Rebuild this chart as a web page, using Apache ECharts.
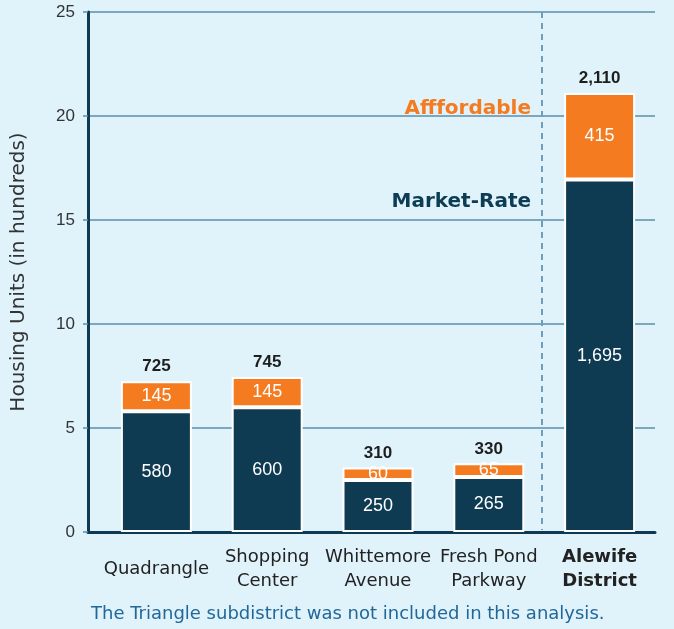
<!DOCTYPE html>
<html>
<head>
<meta charset="utf-8">
<title>Housing Units by Subdistrict</title>
<script src="https://cdn.jsdelivr.net/npm/echarts@6/dist/echarts.min.js"></script>
<style>
  html, body { margin: 0; padding: 0; background: #e0f2fa; }
  #chart { width: 674px; height: 629px; }
</style>
</head>
<body>
<div id="chart"></div>
<script>
// Housing units per subdistrict (units, shown on the axis in hundreds)
const categories = ['Quadrangle', 'Shopping\nCenter', 'Whittemore\nAvenue', 'Fresh Pond\nParkway', 'Alewife\nDistrict'];
const marketRate = [580, 600, 250, 265, 1695];
const affordable = [145, 145, 60, 65, 415];
const totals = [725, 745, 310, 330, 2110];
const yTicks = [0, 5, 10, 15, 20, 25];

const DARK = '#0e3b52';
const ORANGE = '#f47b20';
const GRID = '#5e8ca9';
const NUM_FONT = '"Liberation Sans", Arial, sans-serif';
const WIDE_FONT = '"DejaVu Sans", sans-serif';

const hundreds = v => v / 100;
const fmt = v => v.toLocaleString('en-US');

const chart = echarts.init(document.getElementById('chart'), null, { renderer: 'canvas' });

chart.setOption({
  backgroundColor: '#e0f2fa',
  animation: false,
  grid: [
    // frame: value axis, gridlines and baseline
    { left: 88, right: 19, top: 12, bottom: 97, outerBoundsMode: 'none', containLabel: false },
    // plotting area for the bars, inset from the axis line
    { left: 101, right: 19, top: 12, bottom: 97, outerBoundsMode: 'none', containLabel: false }
  ],
  xAxis: [
    {
      gridIndex: 0, type: 'value', min: 0, max: 1,
      axisLine: { show: true, lineStyle: { color: '#0d3a52', width: 3 } },
      axisTick: { show: false }, axisLabel: { show: false }, splitLine: { show: false }
    },
    {
      gridIndex: 1, type: 'category', data: categories,
      axisLine: { show: false }, axisTick: { show: false },
      splitLine: { show: false },
      axisLabel: {
        interval: 0,
        margin: 37,
        verticalAlign: 'middle',
        fontFamily: WIDE_FONT, fontSize: 18, lineHeight: 24, color: '#222',
        formatter: (v, i) => i === categories.length - 1
          ? v.split('\n').map(s => '{b|' + s + '}').join('\n')
          : v,
        rich: {
          b: { fontFamily: WIDE_FONT, fontSize: 18, fontWeight: 'bold', lineHeight: 24, color: '#222' }
        }
      }
    }
  ],
  yAxis: [
    {
      gridIndex: 0, type: 'value',
      min: yTicks[0], max: yTicks[yTicks.length - 1], interval: yTicks[1] - yTicks[0],
      name: 'Housing Units (in hundreds)',
      nameLocation: 'middle', nameGap: 59,
      nameTextStyle: { fontFamily: WIDE_FONT, fontSize: 20, color: '#333' },
      axisLine: { show: true, lineStyle: { color: '#0d3a52', width: 3 } },
      axisTick: { show: true, length: 5, lineStyle: { color: GRID, width: 1.5 } },
      axisLabel: { margin: 13, fontFamily: NUM_FONT, fontSize: 17, color: '#333' },
      splitLine: { show: true, lineStyle: { color: GRID, width: 1.5 } }
    },
    {
      gridIndex: 1, type: 'value',
      min: yTicks[0], max: yTicks[yTicks.length - 1], interval: yTicks[1] - yTicks[0],
      show: false, splitLine: { show: false }
    }
  ],
  series: [
    {
      name: 'Market-Rate', type: 'bar', stack: 'units',
      xAxisIndex: 1, yAxisIndex: 1,
      barWidth: 71,
      data: marketRate.map(hundreds),
      itemStyle: { color: DARK, borderColor: '#ffffff', borderWidth: 2 },
      label: {
        show: true, position: 'inside',
        fontFamily: NUM_FONT, fontSize: 18, color: '#ffffff',
        formatter: p => fmt(marketRate[p.dataIndex])
      }
    },
    {
      name: 'Affordable', type: 'bar', stack: 'units',
      xAxisIndex: 1, yAxisIndex: 1,
      barWidth: 71,
      data: affordable.map(hundreds),
      itemStyle: { color: ORANGE, borderColor: '#ffffff', borderWidth: 2 },
      label: {
        show: true, position: 'inside',
        fontFamily: NUM_FONT, fontSize: 18, color: '#ffffff',
        formatter: p => fmt(affordable[p.dataIndex])
      }
    },
    {
      name: 'Total', type: 'scatter',
      xAxisIndex: 1, yAxisIndex: 1,
      symbolSize: 0,
      itemStyle: { opacity: 1 },
      data: totals.map(hundreds),
      label: {
        show: true, position: 'top', distance: 6,
        fontFamily: NUM_FONT, fontSize: 17, fontWeight: 'bold', color: '#1e1e1e',
        formatter: p => fmt(totals[p.dataIndex])
      }
    }
  ]
});

// Dashed divider between the subdistricts and the district total,
// placed halfway between the last two categories on the bar axis.
const xA = chart.convertToPixel({ xAxisIndex: 1 }, categories[categories.length - 2]);
const xB = chart.convertToPixel({ xAxisIndex: 1 }, categories[categories.length - 1]);
const yTop = chart.convertToPixel({ yAxisIndex: 1 }, yTicks[yTicks.length - 1]);
const yBottom = chart.convertToPixel({ yAxisIndex: 1 }, yTicks[0]);
const xDivider = Math.round((xA + xB) / 2) - 2;

chart.setOption({
  graphic: [
    {
      type: 'line', z: 1,
      shape: { x1: xDivider, y1: yTop, x2: xDivider, y2: yBottom - 2 },
      style: { stroke: '#6f9dbb', lineWidth: 2, lineDash: [6, 5] }
    },
    {
      type: 'text', right: 143, top: 99,
      style: {
        text: 'Afffordable', fill: ORANGE,
        font: 'bold 20px "DejaVu Sans", sans-serif'
      }
    },
    {
      type: 'text', right: 143, top: 192,
      style: {
        text: 'Market-Rate', fill: '#0d3d55',
        font: 'bold 20px "DejaVu Sans", sans-serif'
      }
    },
    {
      type: 'text', left: 91, top: 605,
      style: {
        text: 'The Triangle subdistrict was not included in this analysis.',
        fill: '#21689a',
        font: '18px "DejaVu Sans", sans-serif'
      }
    }
  ]
});
</script>
</body>
</html>
